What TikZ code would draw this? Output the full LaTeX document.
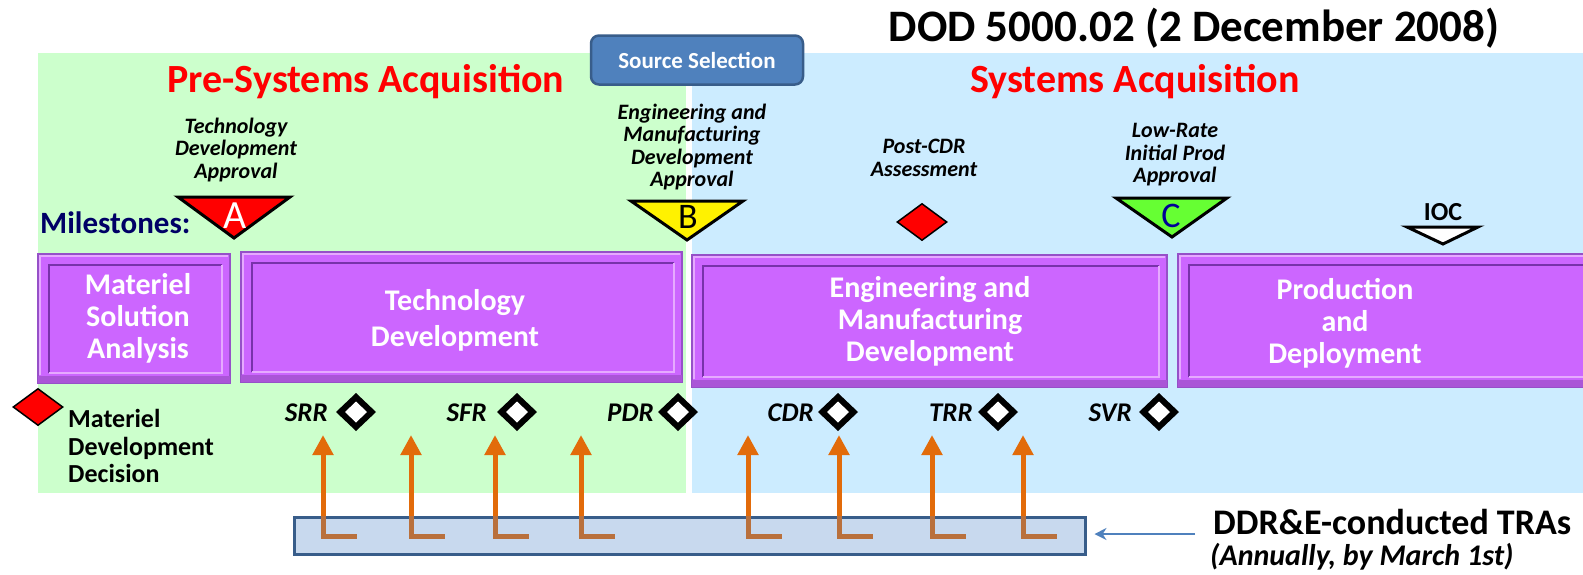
\documentclass[tikz,border=0pt]{standalone}
\usepackage{fontspec}
\setmainfont{Carlito}
\usetikzlibrary{arrows.meta,fit,shapes.geometric}
\definecolor{greenbg}{RGB}{204,255,204}
\definecolor{bluebg}{RGB}{204,236,255}
\definecolor{purp}{RGB}{204,102,255}
\definecolor{purpedge}{RGB}{150,80,200}
\definecolor{purpband}{RGB}{170,85,215}
\definecolor{purpdark}{RGB}{120,50,170}
\definecolor{purplight}{RGB}{230,170,255}
\definecolor{ssblue}{RGB}{79,129,189}
\definecolor{ssborder}{RGB}{56,93,138}
\definecolor{orng}{RGB}{226,107,10}
\definecolor{brownl}{RGB}{185,112,60}
\definecolor{navy}{RGB}{0,0,102}
\definecolor{cgreen}{RGB}{102,255,51}
\definecolor{cblue}{RGB}{0,0,150}
\definecolor{trafill}{RGB}{200,217,238}
\newcommand\phasebox[5]{%
  \node[phasebg, fit={(#2,#3) (#4,#5)}] (#1) {};
  \fill[purpband] ([shift={(1,-8)}]#1.south west) rectangle ([shift={(-1,-1)}]#1.south east);
  \draw[purplight, line width=1.5pt] ([shift={(3,-9)}]#1.south west) |- ([shift={(-3,3)}]#1.north east);
  \draw[purpdark, line width=1.5pt] ([shift={(12,-11)}]#1.south west) |- ([shift={(-9,12)}]#1.north east);
  \draw[purplight, line width=2.5pt] ([shift={(12,-11)}]#1.south west) -| ([shift={(-9,12)}]#1.north east);
}
\begin{document}
\begin{tikzpicture}[x=1pt,y=-1pt,
  titlestyle/.style={font=\bfseries\fontsize{45}{48}\selectfont, inner sep=0},
  phasetitle/.style={font=\bfseries\fontsize{40}{44}\selectfont, text=red, inner sep=0},
  mlabel/.style={font=\bfseries\itshape\fontsize{22}{22.5}\selectfont, align=center, inner sep=0},
  boxtext/.style={text=white, font=\bfseries\fontsize{30}{32}\selectfont, align=center, inner sep=0},
  letter/.style={font=\fontsize{40}{40}\selectfont, inner sep=0, anchor=base},
  review/.style={font=\bfseries\itshape\fontsize{27}{27}\selectfont, inner sep=0, anchor=base east},
  phasebg/.style={fill=purp, draw=purpedge, line width=2pt, inner sep=0},
  tri/.style={draw=black, line width=3pt, line join=miter},
  reddiam/.style={diamond, draw=black, line width=1.5pt, fill=red, inner sep=0},
  ssbox/.style={rounded corners=8pt, fill=ssblue, draw=ssborder, line width=2.5pt, text=white,
    font=\bfseries\fontsize{23}{23}\selectfont, minimum width=212pt, minimum height=49pt, inner sep=0},
  trabox/.style={fill=trafill, draw=ssborder, line width=3pt, inner sep=0},
  orangearrow/.style={draw=orng, line width=5pt, -{Triangle[length=20pt,width=20pt]}},
  brownline/.style={draw=brownl, line width=5pt},
  bluearrow/.style={draw=ssblue, line width=1.5pt, -{Stealth[length=12pt,width=12pt]}},
  revdiamond/.pic={\fill[black] (-20,0)--(0,-19)--(20,0)--(0,19)--cycle;
                   \fill[white] (-11,0)--(0,-10.5)--(11,0)--(0,10.5)--cycle;}
]
\useasboundingbox (0,0) rectangle (1583,574);
\clip (0,0) rectangle (1583,574);
\fill[white] (0,0) rectangle (1583,574);

% backgrounds
\fill[greenbg] (38,53) rectangle (686,493);
\fill[bluebg] (692,53) rectangle (1583,493);

% titles
\node[titlestyle] (title) at (1194,28) {DOD 5000.02 (2 December 2008)};
\node[phasetitle] (pre) at (366,82) {Pre-Systems Acquisition};
\node[phasetitle] (sys) at (1135,82) {Systems Acquisition};
\node[ssbox] (ss) at (697,60) {Source Selection};

% milestone labels
\node[mlabel] (tda) at (236,150) {Technology\\Development\\Approval};
\node[mlabel] (emda) at (692,147) {Engineering and\\Manufacturing\\Development\\Approval};
\node[mlabel] (pcdrl) at (924,158) {Post-CDR\\Assessment};
\node[mlabel] (lrip) at (1175,155) {Low-Rate\\Initial Prod\\Approval};
\node[font=\bfseries\fontsize{31}{31}\selectfont, text=navy, anchor=west, inner sep=0] (ms) at (40,223) {Milestones:};

% milestone triangles
\filldraw[tri, fill=red] (178,197) -- (290,197) -- (234,238) -- cycle;
\node[letter, text=white] (la) at (235,228) {A};
\filldraw[tri, fill=yellow] (631,201) -- (743,201) -- (687,240) -- cycle;
\node[letter, font=\fontsize{36}{36}\selectfont] (lb) at (688,228) {B};
\filldraw[tri, fill=cgreen] (1116,198) -- (1227,198) -- (1172,237) -- cycle;
\node[letter, font=\fontsize{36}{36}\selectfont, text=cblue] (lc) at (1171,227) {C};
\filldraw[tri, fill=white] (1407,227) -- (1478,227) -- (1443,244) -- cycle;
\node[font=\bfseries\fontsize{26}{26}\selectfont, inner sep=0] (ioc) at (1443,212) {IOC};
\node[reddiam, minimum width=50pt, minimum height=37pt] (pcdr) at (922,222) {};

% phase boxes
\phasebox{b1}{38}{254}{230}{383}
\phasebox{b2}{241}{252}{682}{382}
\phasebox{b3}{692}{255}{1167}{387}
\phasebox{b4}{1178}{254}{1600}{387}
\node[boxtext] (t1) at (138,318.5) {Materiel\\Solution\\Analysis};
\node[boxtext, font=\bfseries\fontsize{30}{36}\selectfont] (t2) at (455,320) {Technology\\Development};
\node[boxtext] (t3) at (930,321) {Engineering and\\Manufacturing\\Development};
\node[boxtext] (t4) at (1345,323) {Production\\and\\Deployment};

% materiel development decision
\node[reddiam, minimum width=50pt, minimum height=37pt] (mdd) at (38,407) {};
\node[anchor=west, align=left, inner sep=0, font=\bfseries\fontsize{26}{27.5}\selectfont] (mddt) at (68,446) {Materiel\\Development\\Decision};

% technical reviews
\node[review] (srr) at (328,421) {SRR};
\pic at (356,412) {revdiamond};
\node[review] (sfr) at (487,421) {SFR};
\pic at (517,412) {revdiamond};
\node[review] (pdr) at (654,421) {PDR};
\pic at (678,412) {revdiamond};
\node[review] (cdr) at (814,421) {CDR};
\pic at (838,412) {revdiamond};
\node[review] (trr) at (973,421) {TRR};
\pic at (998,412) {revdiamond};
\node[review] (svr) at (1132,421) {SVR};
\pic at (1159,412) {revdiamond};

% TRA box and arrows
\node[trabox, fit={(294,517) (1085,554)}] (tra) {};
\foreach \x [count=\i] in {323,411,495,581,748,839,932,1023} {
  \coordinate (tip\i) at (\x,435);
  \coordinate (foot\i) at (\x+34,536);
  \draw[brownline] (tip\i |- tra.north) |- (foot\i);
  \draw[orangearrow] (tip\i |- tra.north) -- (tip\i);
}

% DDR&E text
\node[anchor=west, inner sep=0, font=\bfseries\fontsize{36}{36}\selectfont] (ddr) at (1213,522) {DDR\&E-conducted TRAs};
\node[anchor=west, inner sep=0, font=\bfseries\itshape\fontsize{30}{30}\selectfont] (ann) at (1210,557) {(Annually, by March 1st)};
\coordinate (arrstart) at (1195,534);
\draw[bluearrow, shorten >=8pt] (arrstart) -- (tra.east |- arrstart);
\end{tikzpicture}
\end{document}
